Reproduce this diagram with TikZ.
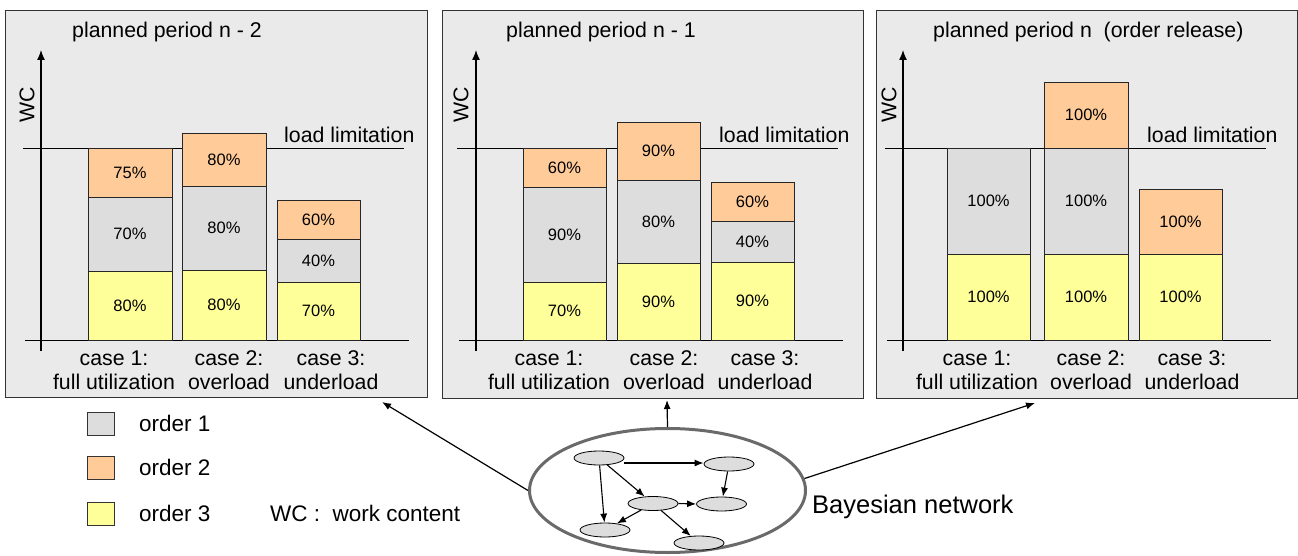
\documentclass[tikz,border=0pt]{standalone}
\usepackage{fontspec}
\setmainfont{Liberation Sans}
\usetikzlibrary{arrows.meta,shapes.geometric,calc}
\definecolor{panelbg}{HTML}{EAEAEA}
\definecolor{ordA}{HTML}{DDDDDD}
\definecolor{ordB}{HTML}{FFCC99}
\definecolor{ordC}{HTML}{FFFF99}
\definecolor{framegray}{HTML}{333333}
\definecolor{ringgray}{HTML}{6A6A6A}

% one coloured block of a stacked bar with its percentage label
\newcommand{\barseg}[6]{%
  \draw[segment,fill=#1] (#2,#3) rectangle (#4,#5);
  \node[pctlabel] at ($(#2,#3)!0.5!(#4,#5)$) {#6};}

\tikzset{
  panel/.style={draw=framegray,line width=1pt,fill=panelbg,inner sep=0pt},
  segment/.style={draw=black!85,line width=0.9pt},
  pctlabel/.style={font=\fontsize{16.5}{19}\selectfont,text=black,inner sep=0pt},
  maintext/.style={font=\fontsize{21.3}{24}\selectfont,inner sep=0pt},
  legtext/.style={font=\fontsize{22.5}{26}\selectfont,inner sep=0pt},
  caselabel/.style={maintext,align=center},
  axisline/.style={line width=1.3pt,-{Latex[length=10pt,width=8pt]}},
  refline/.style={line width=0.9pt},
  link/.style={line width=1.2pt,-{Latex[length=9pt,width=7pt]}},
  bnnode/.style={ellipse,draw=black,line width=0.8pt,fill=ordA,minimum width=50pt,minimum height=14pt,inner sep=0pt},
  bnedge/.style={line width=1.1pt,-{Latex[length=9pt,width=7pt]}},
  legbox/.style={draw=black!80,line width=0.9pt,minimum width=27pt,minimum height=23pt,inner sep=0pt},
}

\begin{document}
\begin{tikzpicture}[x=1pt,y=-1pt]
\useasboundingbox (0,0) rectangle (1298,556);

% ---------- panel 1 : planned period n - 2 ----------
\node[panel,minimum width=422pt,minimum height=386pt] (p1) at (216,204) {};
\node[maintext,anchor=west] (t1) at (72,32) {planned period n - 2};
\draw[axisline] (41,351) -- (41,50);
\node[maintext,rotate=90] (wc1) at (27,105) {WC};
\draw[refline] (25,340) -- (409,340);
\draw[refline] (23,148) -- (404,148);
\node[maintext,anchor=west] (ll1) at (284,135) {load limitation};
\barseg{ordB}{88}{148}{172}{197}{75\%}
\barseg{ordA}{88}{197}{172}{271}{70\%}
\barseg{ordC}{88}{271}{172}{340}{80\%}
\barseg{ordB}{182}{133}{266}{186}{80\%}
\barseg{ordA}{182}{186}{266}{270}{80\%}
\barseg{ordC}{182}{270}{266}{340}{80\%}
\barseg{ordB}{277}{200}{360}{239}{60\%}
\barseg{ordA}{277}{239}{360}{282}{40\%}
\barseg{ordC}{277}{282}{360}{340}{70\%}
\node[caselabel] (c11) at (114,370) {case 1:\\full utilization};
\node[caselabel] (c12) at (229,370) {case 2:\\overload};
\node[caselabel] (c13) at (331,370) {case 3:\\underload};

% ---------- panel 2 : planned period n - 1 ----------
\node[panel,minimum width=421pt,minimum height=387pt] (p2) at (652.5,204.5) {};
\node[maintext,anchor=west] (t2) at (506,32) {planned period n - 1};
\draw[axisline] (476,351) -- (476,50);
\node[maintext,rotate=90] (wc2) at (461,105) {WC};
\draw[refline] (459,340) -- (843,340);
\draw[refline] (457,148) -- (838,148);
\node[maintext,anchor=west] (ll2) at (719,135) {load limitation};
\barseg{ordB}{523}{148}{606}{187}{60\%}
\barseg{ordA}{523}{187}{606}{282}{90\%}
\barseg{ordC}{523}{282}{606}{340}{70\%}
\barseg{ordB}{617}{122}{700}{180}{90\%}
\barseg{ordA}{617}{180}{700}{263}{80\%}
\barseg{ordC}{617}{263}{700}{340}{90\%}
\barseg{ordB}{711}{182}{794}{221}{60\%}
\barseg{ordA}{711}{221}{794}{262}{40\%}
\barseg{ordC}{711}{262}{794}{340}{90\%}
\node[caselabel] (c21) at (549,370) {case 1:\\full utilization};
\node[caselabel] (c22) at (664,370) {case 2:\\overload};
\node[caselabel] (c23) at (765,370) {case 3:\\underload};

% ---------- panel 3 : planned period n (order release) ----------
\node[panel,minimum width=421pt,minimum height=387pt] (p3) at (1086.5,204.5) {};
\node[maintext,anchor=west] (t3) at (933,32) {planned period n\ \ (order release)};
\draw[axisline] (903,351) -- (903,50);
\node[maintext,rotate=90] (wc3) at (889,105) {WC};
\draw[refline] (887,340) -- (1271,340);
\draw[refline] (885,148) -- (1266,148);
\node[maintext,anchor=west] (ll3) at (1147,135) {load limitation};
\barseg{ordA}{947}{148}{1030}{254}{100\%}
\barseg{ordC}{947}{254}{1030}{340}{100\%}
\barseg{ordB}{1044}{82}{1128}{148}{100\%}
\barseg{ordA}{1044}{148}{1128}{254}{100\%}
\barseg{ordC}{1044}{254}{1128}{340}{100\%}
\barseg{ordB}{1139}{189}{1222}{254}{100\%}
\barseg{ordC}{1139}{254}{1222}{340}{100\%}
\node[caselabel] (c31) at (977,370) {case 1:\\full utilization};
\node[caselabel] (c32) at (1091,370) {case 2:\\overload};
\node[caselabel] (c33) at (1192,370) {case 3:\\underload};

% ---------- legend ----------
\node[legbox,fill=ordA] (lg1) at (100.5,423.5) {};
\node[legbox,fill=ordB] (lg2) at (100.5,467.5) {};
\node[legbox,fill=ordC] (lg3) at (100.5,513.5) {};
\node[legtext,anchor=west] (lt1) at (139,423) {order 1};
\node[legtext,anchor=west] (lt2) at (139,467) {order 2};
\node[legtext,anchor=west] (lt3) at (139,513) {order 3};
\node[legtext,anchor=west] (wcdef) at (270,513) {WC :\hspace{0.55em}work content};

% ---------- Bayesian network ----------
\node[ellipse,draw=ringgray,line width=3pt,minimum width=276pt,minimum height=124pt,inner sep=0pt] (bn) at (667.5,490.5) {};
\node[font=\fontsize{25.5}{30}\selectfont,anchor=west,inner sep=0pt] (bnlabel) at (812,507) {Bayesian network};

\node[bnnode] (n1) at (599,458) {};
\node[bnnode] (n2) at (729,464) {};
\node[bnnode] (n3) at (653,503.5) {};
\node[bnnode] (n4) at (721.5,504) {};
\node[bnnode] (n5) at (605,530) {};
\node[bnnode] (n6) at (699,543) {};

\draw[bnedge] (n1.east |- 0,463) -- (n2.west |- 0,463);
\draw[bnedge] (n1) -- (n5);
\draw[bnedge] (n1) -- (n3);
\draw[bnedge] (n2) -- (n4);
\draw[bnedge] (n3.east) -- (n4.west);
\draw[bnedge] (n3) -- (n5);
\draw[bnedge] (n3) -- (n6);

% ---------- links from the network to the periods ----------
\coordinate (a1) at (382,402);
\coordinate (a2) at (667,400);
\coordinate (a3) at (1035,403);
\draw[link] (bn.west) -- (a1);
\draw[link] (bn.north) -- (a2);
\draw[link] (bn.5) -- (a3);
\end{tikzpicture}
\end{document}
